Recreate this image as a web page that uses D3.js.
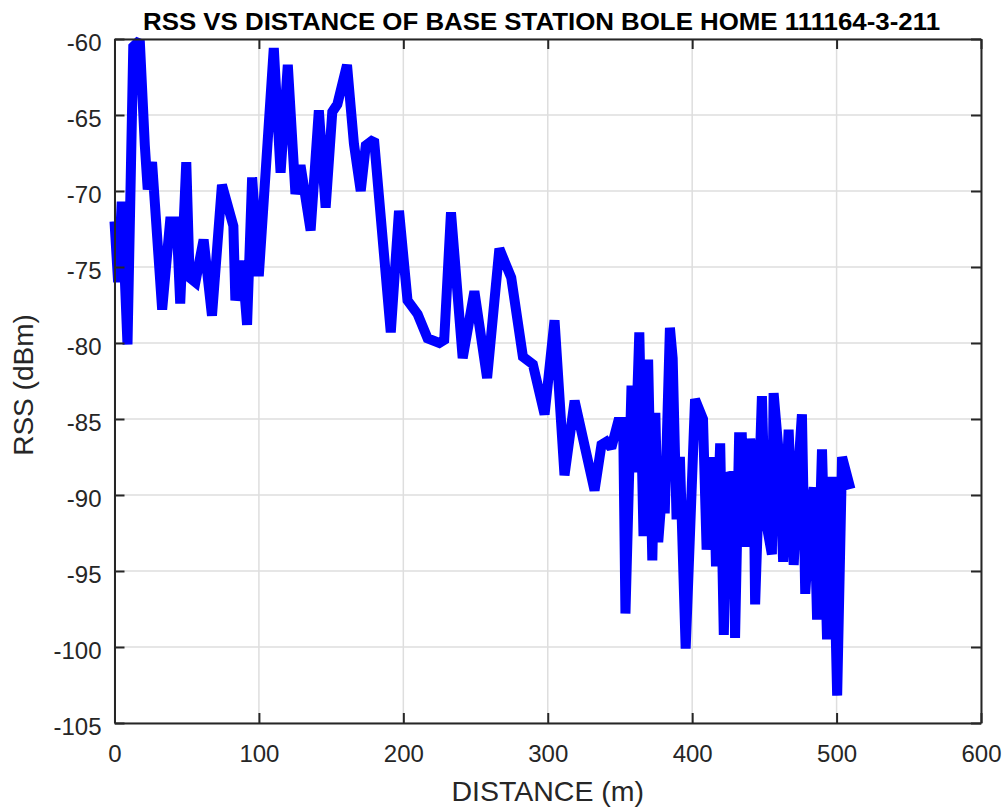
<!DOCTYPE html>
<html>
<head>
<meta charset="utf-8">
<script src="https://cdn.jsdelivr.net/npm/d3@7/dist/d3.min.js"></script>
<style>
  html, body { margin: 0; padding: 0; background: #ffffff; }
  svg { display: block; }
</style>
</head>
<body>
<svg id="chart" width="1006" height="809"></svg>
<script>
// Measured distance from the base station (m)
const distance = [
  0, 2.5, 5, 9, 13, 17.5, 21, 23, 26, 33,
  38.5, 43, 45.5, 49.7, 52, 56, 61.7, 67.5, 74.4, 82.3,
  83.7, 88.3, 91.8, 95.3, 99.9, 110.3, 115, 120, 125.3, 128.8,
  135.8, 141.5, 146.2, 150.8, 154.3, 161, 165.8, 170.5, 174, 179.7,
  191.3, 197, 202.9, 209.9, 216.8, 224.9, 228.3, 233, 241.1, 249.2,
  258, 266.5, 274.7, 282.8, 289.7, 297.8, 304.7, 311.6, 318.6, 332.4,
  337.2, 340.6, 344, 348.7, 352.2, 353.8, 358, 360.3, 363.4, 366.3,
  369.5, 372.4, 374.5, 376.5, 379.5, 381, 384.6, 386.5, 389.2, 391.5,
  395.5, 402, 407.5, 410, 414.7, 416.5, 419.4, 421.9, 424.5, 428.6,
  429.7, 432.5, 434.4, 436.7, 440.2, 442.5, 443.6, 448.3, 450.5, 455.2,
  456.4, 460, 463, 466.8, 470.3, 473, 476, 478.3, 481.8, 484.2,
  486.5, 489.9, 493.4, 496.9, 500.4, 503.8, 509.6
];

// Received signal strength at each distance (dBm)
const rss = [
  -72, -76, -70.7, -80.1, -60.5, -60.1, -67, -69.9, -68.1, -77.8,
  -72, -72, -77.4, -68.1, -75.7, -76, -73.2, -78.2, -69.6, -72.3,
  -77.2, -74.6, -78.8, -69.1, -75.6, -60.6, -68.8, -61.7, -70.2, -68.3,
  -72.6, -64.7, -71.1, -64.8, -64.3, -61.7, -66.9, -70, -67, -66.6,
  -79.3, -71.3, -77.2, -78.1, -79.7, -80, -79.8, -71.4, -81, -76.6,
  -82.3, -73.8, -75.7, -80.9, -81.4, -84.7, -78.5, -88.7, -83.8, -89.7,
  -86.7, -86.5, -86.9, -85.2, -85.2, -97.8, -82.8, -88.5, -79.3, -92.7,
  -81.1, -94.3, -84.6, -93.1, -89.3, -91.2, -79.0, -81, -91.6, -87.5,
  -100.1, -83.7, -85, -93.6, -87.5, -94.7, -86.6, -99.2, -88.8, -88.7,
  -99.4, -86.2, -86.2, -93.4, -86.3, -88.1, -97.2, -83.5, -91.4, -93.9,
  -83.3, -87.3, -94.4, -85.7, -94.6, -89.0, -84.7, -96.5, -91.1, -89.5,
  -98.2, -87, -99.5, -88.8, -103.2, -87.5, -89.6
];

const xTicks = [0, 100, 200, 300, 400, 500, 600];
const yTicks = [-105, -100, -95, -90, -85, -80, -75, -70, -65, -60];

const titleText = "RSS VS DISTANCE OF BASE STATION BOLE HOME 111164-3-211";
const xLabelText = "DISTANCE (m)";
const yLabelText = "RSS (dBm)";

const svg = d3.select("#chart");
const plotLeft = 114.5, plotRight = 981, plotTop = 39, plotBottom = 723;

const x = d3.scaleLinear().domain([0, 600]).range([plotLeft, plotRight]);
const y = d3.scaleLinear().domain([-105, -60]).range([plotBottom, plotTop]);

const axisColor = "#262626";
const font = "'Liberation Sans', Arial, sans-serif";

// grid
const grid = svg.append("g");
grid.selectAll("line.gx").data(xTicks).join("line")
  .attr("class", "gx")
  .attr("x1", d => x(d)).attr("x2", d => x(d))
  .attr("y1", plotTop).attr("y2", plotBottom)
  .attr("stroke", "#dedede").attr("stroke-width", 1.5);
grid.selectAll("line.gy").data(yTicks).join("line")
  .attr("class", "gy")
  .attr("x1", plotLeft).attr("x2", plotRight)
  .attr("y1", d => y(d)).attr("y2", d => y(d))
  .attr("stroke", "#dedede").attr("stroke-width", 1.5);

// data line
const line = d3.line().x((d, i) => x(distance[i])).y(d => y(d));
svg.append("path")
  .datum(rss)
  .attr("d", line)
  .attr("fill", "none")
  .attr("stroke", "#0000ff")
  .attr("stroke-width", 10)
  .attr("stroke-linejoin", "miter")
  .attr("stroke-miterlimit", 2);

// axes with inward ticks on all four sides
const tickLen = 10;
const bottomAxis = d3.axisBottom(x).tickValues(xTicks).tickSizeInner(-tickLen).tickSizeOuter(0).tickPadding(22);
const topAxis = d3.axisTop(x).tickValues(xTicks).tickSizeInner(-tickLen).tickSizeOuter(0).tickFormat("");
const leftAxis = d3.axisLeft(y).tickValues(yTicks).tickSizeInner(-tickLen).tickSizeOuter(0).tickPadding(13)
  .tickFormat(d => String(d));
const rightAxis = d3.axisRight(y).tickValues(yTicks).tickSizeInner(-tickLen).tickSizeOuter(0).tickFormat("");

function styleAxis(g) {
  g.selectAll("path.domain").attr("stroke", axisColor).attr("stroke-width", 2);
  g.selectAll(".tick line").attr("stroke", axisColor).attr("stroke-width", 2);
  g.selectAll(".tick text").attr("fill", axisColor)
    .style("font-family", font).style("font-size", "24px");
}

svg.append("g").attr("transform", `translate(0,${plotBottom})`).call(bottomAxis).call(styleAxis);
svg.append("g").attr("transform", `translate(0,${plotTop})`).call(topAxis).call(styleAxis);
svg.append("g").attr("transform", `translate(${plotLeft},0)`).call(leftAxis).call(styleAxis)
  .selectAll(".tick text").attr("dy", "0.46em");
svg.append("g").attr("transform", `translate(${plotRight},0)`).call(rightAxis).call(styleAxis);

// title
svg.append("text")
  .attr("x", (143 + 940) / 2).attr("y", 30)
  .attr("text-anchor", "middle")
  .attr("fill", "#000")
  .attr("textLength", 797).attr("lengthAdjust", "spacingAndGlyphs")
  .style("font-family", font).style("font-weight", "bold").style("font-size", "24px")
  .text(titleText);

// axis labels
svg.append("text")
  .attr("x", (plotLeft + plotRight) / 2).attr("y", 801)
  .attr("text-anchor", "middle").attr("fill", axisColor)
  .style("font-family", font).style("font-size", "28.5px")
  .text(xLabelText);

svg.append("text")
  .attr("transform", `translate(33,385) rotate(-90)`)
  .attr("text-anchor", "middle").attr("fill", axisColor)
  .style("font-family", font).style("font-size", "28px")
  .text(yLabelText);
</script>
</body>
</html>
